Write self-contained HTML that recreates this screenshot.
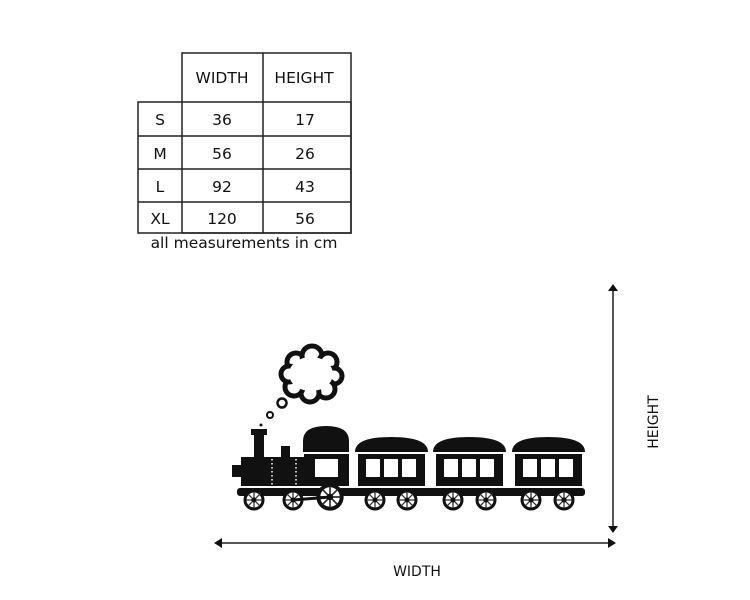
<!DOCTYPE html>
<html><head><style>
html,body{margin:0;padding:0;background:#fff;}
svg{display:block;}
text{font-family:"DejaVu Sans","Liberation Sans",sans-serif;fill:#111;}
</style></head><body>
<svg width="750" height="600" viewBox="0 0 750 600" xmlns="http://www.w3.org/2000/svg">
<defs>
<g id="w">
<circle r="9" fill="#fff" stroke="#111" stroke-width="3"/>
<g stroke="#333" stroke-width="1.3">
<line x1="-8" y1="0" x2="8" y2="0"/><line x1="0" y1="-8" x2="0" y2="8"/>
<line x1="-5.7" y1="-5.7" x2="5.7" y2="5.7"/><line x1="-5.7" y1="5.7" x2="5.7" y2="-5.7"/>
</g>
<circle r="2.5" fill="#111"/>
</g>
</defs>
<!-- table -->
<g stroke="#222" stroke-width="1.5" fill="none">
<rect x="182" y="53" width="169" height="180"/>
<rect x="138" y="102" width="213" height="131"/>
<line x1="263" y1="53" x2="263" y2="233"/>
<line x1="138" y1="136" x2="351" y2="136"/>
<line x1="138" y1="169" x2="351" y2="169"/>
<line x1="138" y1="202" x2="351" y2="202"/>
</g>
<g font-size="15.5" text-anchor="middle">
<text x="222" y="83">WIDTH</text><text x="304" y="83">HEIGHT</text>
<text x="160" y="125">S</text><text x="222" y="125">36</text><text x="305" y="125">17</text>
<text x="160" y="159">M</text><text x="222" y="159">56</text><text x="305" y="159">26</text>
<text x="160" y="192">L</text><text x="222" y="192">92</text><text x="305" y="192">43</text>
<text x="160" y="224">XL</text><text x="222" y="224">120</text><text x="305" y="224">56</text>
<text x="244" y="248">all measurements in cm</text>
</g>
<!-- arrows -->
<g stroke="#555" stroke-width="2">
<line x1="219" y1="543" x2="610" y2="543"/>
<line x1="613" y1="289" x2="613" y2="528"/>
</g>
<g fill="#111">
<polygon points="214,543 222,538 222,548"/>
<polygon points="616,543 608,538 608,548"/>
<polygon points="613,284 608,291 618,291"/>
<polygon points="613,533 608,526 618,526"/>
</g>
<text x="417" y="576" font-size="14" text-anchor="middle">WIDTH</text>
<text transform="translate(658,422) rotate(-90)" font-size="14" text-anchor="middle">HEIGHT</text>
<!-- smoke -->
<g fill="#fff" stroke="#111" stroke-width="5">
<circle cx="296" cy="362" r="9"/><circle cx="312" cy="356" r="10"/><circle cx="328" cy="362" r="9"/>
<circle cx="334" cy="376" r="8"/><circle cx="326" cy="389" r="9"/><circle cx="310" cy="393" r="9"/>
<circle cx="294" cy="387" r="9"/><circle cx="289" cy="374" r="8"/>
</g>
<ellipse cx="311" cy="374" rx="22" ry="17" fill="#fff"/>
<circle cx="282" cy="403" r="4.5" fill="#fff" stroke="#111" stroke-width="2.5"/>
<circle cx="270" cy="415" r="3" fill="#fff" stroke="#111" stroke-width="2"/>
<circle cx="261" cy="425" r="1.5" fill="#111"/>
<!-- locomotive -->
<g fill="#111">
<rect x="251" y="429" width="16" height="6"/>
<rect x="254" y="435" width="10" height="22"/>
<rect x="281" y="446" width="9" height="12"/>
<rect x="241" y="457" width="64" height="29"/>
<rect x="232" y="465" width="9" height="12"/>
<path d="M303 452 L303 441 Q303 426 326 426 Q349 426 349 441 L349 452 Z"/>
<rect x="304" y="454" width="45" height="32"/>
<path d="M355 452 Q355 437 391 437 Q428 437 428 452 Z"/>
<rect x="358" y="454" width="67" height="32"/>
<path d="M433 452 Q433 437 469 437 Q506 437 506 452 Z"/>
<rect x="436" y="454" width="67" height="32"/>
<path d="M512 452 Q512 437 548 437 Q585 437 585 452 Z"/>
<rect x="515" y="454" width="67" height="32"/>
<rect x="237" y="488" width="348" height="8" rx="3"/>
</g>
<g fill="#fff">
<rect x="315" y="459" width="23" height="18"/>
<rect x="366" y="459" width="14" height="18"/><rect x="384" y="459" width="14" height="18"/><rect x="402" y="459" width="14" height="18"/>
<rect x="444" y="459" width="14" height="18"/><rect x="462" y="459" width="14" height="18"/><rect x="480" y="459" width="14" height="18"/>
<rect x="523" y="459" width="14" height="18"/><rect x="541" y="459" width="14" height="18"/><rect x="559" y="459" width="14" height="18"/>
</g>
<g stroke="#fff" stroke-width="1.5" stroke-dasharray="1.5 2.5">
<line x1="272" y1="459" x2="272" y2="485"/><line x1="296" y1="459" x2="296" y2="485"/>
</g>
<!-- wheels -->
<use href="#w" x="254" y="500"/><use href="#w" x="293" y="500"/>
<use href="#w" x="330" y="497" transform="translate(330,497) scale(1.3) translate(-330,-497)"/>
<use href="#w" x="375" y="500"/><use href="#w" x="407" y="500"/>
<use href="#w" x="453" y="500"/><use href="#w" x="486" y="500"/>
<use href="#w" x="531" y="500"/><use href="#w" x="564" y="500"/>
<line x1="293" y1="500" x2="330" y2="497" stroke="#111" stroke-width="3"/>
</svg>
</body></html>
